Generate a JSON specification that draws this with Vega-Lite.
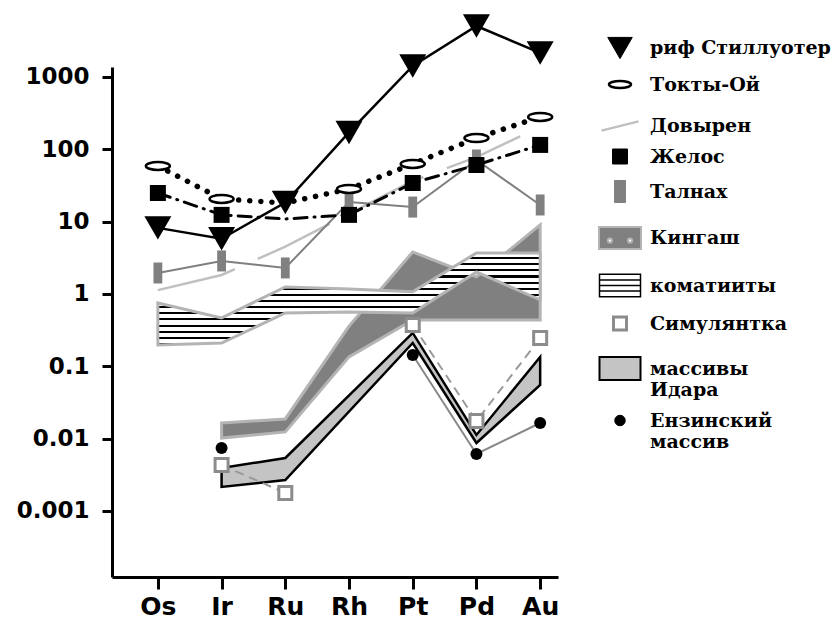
{
  "$schema": "https://vega.github.io/schema/vega-lite/v6.json",
  "width": 446,
  "height": 510,
  "autosize": {"type": "none"},
  "padding": {"left": 112, "top": 67, "right": 273, "bottom": 46},
  "background": "white",
  "config": {
    "view": {"stroke": null},
    "axis": {"grid": false, "domainColor": "black", "domainWidth": 3, "tickColor": "black", "tickWidth": 3, "labelFont": "DejaVu Sans", "labelFontWeight": "bold", "labelColor": "black", "title": null},
    "legend": {"title": null, "labelFont": "DejaVu Serif", "labelFontWeight": "bold", "labelFontSize": 19, "labelColor": "black", "labelLimit": 400, "labelOffset": 8, "rowPadding": 11, "symbolOpacity": 1, "padding": 0}
  },
  "datasets": {
    "pge": [
      {"series": "риф Стиллуотер", "element": "Os", "value": 8.2},
      {"series": "риф Стиллуотер", "element": "Ir", "value": 5.8},
      {"series": "риф Стиллуотер", "element": "Ru", "value": 18.4},
      {"series": "риф Стиллуотер", "element": "Rh", "value": 171},
      {"series": "риф Стиллуотер", "element": "Pt", "value": 1420},
      {"series": "риф Стиллуотер", "element": "Pd", "value": 5070},
      {"series": "риф Стиллуотер", "element": "Au", "value": 2150},
      {"series": "Токты-Ой", "element": "Os", "value": 58.8},
      {"series": "Токты-Ой", "element": "Ir", "value": 20.6},
      {"series": "Токты-Ой", "element": "Ru", "value": 18.1},
      {"series": "Токты-Ой", "element": "Rh", "value": 28.3},
      {"series": "Токты-Ой", "element": "Pt", "value": 62.7},
      {"series": "Токты-Ой", "element": "Pd", "value": 143},
      {"series": "Токты-Ой", "element": "Au", "value": 280},
      {"series": "Довырен", "element": "Os", "value": 1.13},
      {"series": "Довырен", "element": "Ir", "value": 1.83},
      {"series": "Довырен", "element": "Ru", "value": 4.5},
      {"series": "Довырен", "element": "Rh", "value": 12.8},
      {"series": "Довырен", "element": "Pt", "value": 36.5},
      {"series": "Довырен", "element": "Pd", "value": 78},
      {"series": "Довырен", "element": "Au", "value": 204},
      {"series": "Желос", "element": "Os", "value": 24.9},
      {"series": "Желос", "element": "Ir", "value": 12.4},
      {"series": "Желос", "element": "Ru", "value": 10.9},
      {"series": "Желос", "element": "Rh", "value": 12.4},
      {"series": "Желос", "element": "Pt", "value": 34.2},
      {"series": "Желос", "element": "Pd", "value": 60.7},
      {"series": "Желос", "element": "Au", "value": 115},
      {"series": "Талнах", "element": "Os", "value": 1.95},
      {"series": "Талнах", "element": "Ir", "value": 2.86},
      {"series": "Талнах", "element": "Ru", "value": 2.29},
      {"series": "Талнах", "element": "Rh", "value": 18.7},
      {"series": "Талнах", "element": "Pt", "value": 15.9},
      {"series": "Талнах", "element": "Pd", "value": 71.2},
      {"series": "Талнах", "element": "Au", "value": 17.0},
      {"series": "Симулянтка", "element": "Ir", "value": 0.00432},
      {"series": "Симулянтка", "element": "Ru", "value": 0.00177},
      {"series": "Симулянтка", "element": "Rh", "value": null},
      {"series": "Симулянтка", "element": "Pt", "value": 0.372},
      {"series": "Симулянтка", "element": "Pd", "value": 0.0175},
      {"series": "Симулянтка", "element": "Au", "value": 0.246},
      {"series": "Ензинский массив", "element": "Ir", "value": 0.00743},
      {"series": "Ензинский массив", "element": "Ru", "value": null},
      {"series": "Ензинский массив", "element": "Pt", "value": 0.1435},
      {"series": "Ензинский массив", "element": "Pd", "value": 0.00614},
      {"series": "Ензинский массив", "element": "Au", "value": 0.01645}
    ],
    "bands": [
      {"series": "коматииты", "element": "Os", "low": 0.197, "high": 0.75},
      {"series": "коматииты", "element": "Ir", "low": 0.21, "high": 0.466},
      {"series": "коматииты", "element": "Ru", "low": 0.546, "high": 1.25},
      {"series": "коматииты", "element": "Rh", "low": 0.563, "high": 1.17},
      {"series": "коматииты", "element": "Pt", "low": 0.546, "high": 1.07},
      {"series": "коматииты", "element": "Pd", "low": 2.01, "high": 3.69},
      {"series": "коматииты", "element": "Au", "low": 0.83, "high": 3.69},
      {"series": "Кингаш", "element": "Ir", "low": 0.0102, "high": 0.0164},
      {"series": "Кингаш", "element": "Ru", "low": 0.0124, "high": 0.0187},
      {"series": "Кингаш", "element": "Rh", "low": 0.135, "high": 0.36},
      {"series": "Кингаш", "element": "Pt", "low": 0.437, "high": 3.81},
      {"series": "Кингаш", "element": "Pd", "low": 0.437, "high": 1.73},
      {"series": "Кингаш", "element": "Au", "low": 0.437, "high": 9.0},
      {"series": "массивы Идара", "element": "Ir", "low": 0.00215, "high": 0.00393},
      {"series": "массивы Идара", "element": "Ru", "low": 0.00268, "high": 0.0054},
      {"series": "массивы Идара", "element": "Pt", "low": 0.21, "high": 0.29},
      {"series": "массивы Идара", "element": "Pd", "low": 0.0087, "high": 0.01125},
      {"series": "массивы Идара", "element": "Au", "low": 0.0552, "high": 0.1345}
    ],
    "legendEntries": [
      {"series": "риф Стиллуотер"},
      {"series": "Токты-Ой"},
      {"series": "Довырен"},
      {"series": "Желос"},
      {"series": "Талнах"},
      {"series": "Кингаш"},
      {"series": "коматииты"},
      {"series": "Симулянтка"},
      {"series": "массивы Идара"},
      {"series": "Ензинский массив"}
    ]
  },
  "layer": [
    {
      "data": {"name": "bands"},
      "transform": [{"filter": "datum.series === 'Кингаш'"}],
      "mark": {"type": "area", "fill": "#808080", "stroke": "#b4b4b4", "strokeWidth": 3, "strokeJoin": "miter"},
      "encoding": {
        "x": {"field": "element", "type": "ordinal", "title": null, "scale": {"type": "point", "domain": ["Os", "Ir", "Ru", "Rh", "Pt", "Pd", "Au"], "padding": 0.5, "align": 0.72}, "axis": {"labelAngle": 0, "labelFontSize": 25, "tickSize": 12, "labelPadding": 5}},
        "y": {"field": "high", "type": "quantitative", "title": null, "scale": {"type": "log", "domain": [0.0001222, 1374], "nice": false}, "axis": {"values": [0.001, 0.01, 0.1, 1, 10, 100, 1000], "format": "~g", "labelFontSize": 23, "tickSize": 10, "labelPadding": 13}},
        "y2": {"field": "low"}
      }
    },
    {
      "data": {"name": "bands"},
      "transform": [{"filter": "datum.series === 'коматииты'"}],
      "mark": {"type": "area", "stroke": "#b4b4b4", "strokeWidth": 3, "fill": {"gradient": "linear", "x1": 0, "y1": 0, "x2": 0, "y2": 1, "stops": [
        {"offset": 0, "color": "white"}, {"offset": 0.0444, "color": "white"}, {"offset": 0.0444, "color": "black"}, {"offset": 0.0667, "color": "black"},
        {"offset": 0.0667, "color": "white"}, {"offset": 0.1111, "color": "white"}, {"offset": 0.1111, "color": "black"}, {"offset": 0.1333, "color": "black"},
        {"offset": 0.1333, "color": "white"}, {"offset": 0.1778, "color": "white"}, {"offset": 0.1778, "color": "black"}, {"offset": 0.2, "color": "black"},
        {"offset": 0.2, "color": "white"}, {"offset": 0.2444, "color": "white"}, {"offset": 0.2444, "color": "black"}, {"offset": 0.2667, "color": "black"},
        {"offset": 0.2667, "color": "white"}, {"offset": 0.3111, "color": "white"}, {"offset": 0.3111, "color": "black"}, {"offset": 0.3333, "color": "black"},
        {"offset": 0.3333, "color": "white"}, {"offset": 0.3778, "color": "white"}, {"offset": 0.3778, "color": "black"}, {"offset": 0.4, "color": "black"},
        {"offset": 0.4, "color": "white"}, {"offset": 0.4444, "color": "white"}, {"offset": 0.4444, "color": "black"}, {"offset": 0.4667, "color": "black"},
        {"offset": 0.4667, "color": "white"}, {"offset": 0.5111, "color": "white"}, {"offset": 0.5111, "color": "black"}, {"offset": 0.5333, "color": "black"},
        {"offset": 0.5333, "color": "white"}, {"offset": 0.5778, "color": "white"}, {"offset": 0.5778, "color": "black"}, {"offset": 0.6, "color": "black"},
        {"offset": 0.6, "color": "white"}, {"offset": 0.6444, "color": "white"}, {"offset": 0.6444, "color": "black"}, {"offset": 0.6667, "color": "black"},
        {"offset": 0.6667, "color": "white"}, {"offset": 0.7111, "color": "white"}, {"offset": 0.7111, "color": "black"}, {"offset": 0.7333, "color": "black"},
        {"offset": 0.7333, "color": "white"}, {"offset": 0.7778, "color": "white"}, {"offset": 0.7778, "color": "black"}, {"offset": 0.8, "color": "black"},
        {"offset": 0.8, "color": "white"}, {"offset": 0.8444, "color": "white"}, {"offset": 0.8444, "color": "black"}, {"offset": 0.8667, "color": "black"},
        {"offset": 0.8667, "color": "white"}, {"offset": 0.9111, "color": "white"}, {"offset": 0.9111, "color": "black"}, {"offset": 0.9333, "color": "black"},
        {"offset": 0.9333, "color": "white"}, {"offset": 0.9778, "color": "white"}, {"offset": 0.9778, "color": "black"}, {"offset": 1, "color": "black"}
      ]}},
      "encoding": {
        "x": {"field": "element", "type": "ordinal", "title": null, "scale": {"type": "point", "domain": ["Os", "Ir", "Ru", "Rh", "Pt", "Pd", "Au"], "padding": 0.5, "align": 0.72}},
        "y": {"field": "high", "type": "quantitative", "title": null, "scale": {"type": "log", "domain": [0.0001222, 1374], "nice": false}},
        "y2": {"field": "low"}
      }
    },
    {
      "data": {"name": "bands"},
      "transform": [{"filter": "datum.series === 'массивы Идара'"}],
      "mark": {"type": "area", "fill": "#c4c4c4", "stroke": "black", "strokeWidth": 2.5},
      "encoding": {
        "x": {"field": "element", "type": "ordinal", "title": null, "scale": {"type": "point", "domain": ["Os", "Ir", "Ru", "Rh", "Pt", "Pd", "Au"], "padding": 0.5, "align": 0.72}},
        "y": {"field": "high", "type": "quantitative", "title": null, "scale": {"type": "log", "domain": [0.0001222, 1374], "nice": false}},
        "y2": {"field": "low"}
      }
    },
    {
      "data": {"name": "pge"},
      "transform": [{"filter": "datum.series === 'Довырен'"}],
      "mark": {"type": "line", "stroke": "#c0c0c0", "strokeWidth": 2.5, "strokeDash": [80, 25]},
      "encoding": {
        "x": {"field": "element", "type": "ordinal", "title": null, "scale": {"type": "point", "domain": ["Os", "Ir", "Ru", "Rh", "Pt", "Pd", "Au"], "padding": 0.5, "align": 0.72}},
        "y": {"field": "value", "type": "quantitative", "title": null, "scale": {"type": "log", "domain": [0.0001222, 1374], "nice": false}}
      }
    },
    {
      "data": {"name": "pge"},
      "transform": [{"filter": "datum.series === 'Талнах'"}],
      "mark": {"type": "line", "stroke": "#7f7f7f", "strokeWidth": 2},
      "encoding": {
        "x": {"field": "element", "type": "ordinal", "title": null, "scale": {"type": "point", "domain": ["Os", "Ir", "Ru", "Rh", "Pt", "Pd", "Au"], "padding": 0.5, "align": 0.72}},
        "y": {"field": "value", "type": "quantitative", "title": null, "scale": {"type": "log", "domain": [0.0001222, 1374], "nice": false}}
      }
    },
    {
      "data": {"name": "pge"},
      "transform": [{"filter": "datum.series === 'Талнах'"}],
      "mark": {"type": "point", "shape": "M-0.42,-1H0.42V1H-0.42Z", "size": 441, "filled": true, "fill": "#808080", "opacity": 1, "strokeWidth": 0},
      "encoding": {
        "x": {"field": "element", "type": "ordinal", "title": null, "scale": {"type": "point", "domain": ["Os", "Ir", "Ru", "Rh", "Pt", "Pd", "Au"], "padding": 0.5, "align": 0.72}},
        "y": {"field": "value", "type": "quantitative", "title": null, "scale": {"type": "log", "domain": [0.0001222, 1374], "nice": false}}
      }
    },
    {
      "data": {"name": "pge"},
      "transform": [{"filter": "datum.series === 'Желос'"}],
      "mark": {"type": "line", "stroke": "black", "strokeWidth": 3, "strokeDash": [13, 7, 1, 7], "strokeCap": "round"},
      "encoding": {
        "x": {"field": "element", "type": "ordinal", "title": null, "scale": {"type": "point", "domain": ["Os", "Ir", "Ru", "Rh", "Pt", "Pd", "Au"], "padding": 0.5, "align": 0.72}},
        "y": {"field": "value", "type": "quantitative", "title": null, "scale": {"type": "log", "domain": [0.0001222, 1374], "nice": false}}
      }
    },
    {
      "data": {"name": "pge"},
      "transform": [{"filter": "datum.series === 'Желос' && datum.element !== 'Ru'"}],
      "mark": {"type": "point", "shape": "square", "size": 256, "filled": true, "fill": "black", "opacity": 1},
      "encoding": {
        "x": {"field": "element", "type": "ordinal", "title": null, "scale": {"type": "point", "domain": ["Os", "Ir", "Ru", "Rh", "Pt", "Pd", "Au"], "padding": 0.5, "align": 0.72}},
        "y": {"field": "value", "type": "quantitative", "title": null, "scale": {"type": "log", "domain": [0.0001222, 1374], "nice": false}}
      }
    },
    {
      "data": {"name": "pge"},
      "transform": [{"filter": "datum.series === 'Токты-Ой'"}],
      "mark": {"type": "line", "stroke": "black", "strokeWidth": 5.5, "strokeDash": [0.1, 11], "strokeCap": "round"},
      "encoding": {
        "x": {"field": "element", "type": "ordinal", "title": null, "scale": {"type": "point", "domain": ["Os", "Ir", "Ru", "Rh", "Pt", "Pd", "Au"], "padding": 0.5, "align": 0.72}},
        "y": {"field": "value", "type": "quantitative", "title": null, "scale": {"type": "log", "domain": [0.0001222, 1374], "nice": false}}
      }
    },
    {
      "data": {"name": "pge"},
      "transform": [{"filter": "datum.series === 'Токты-Ой' && datum.element !== 'Ru'"}],
      "mark": {"type": "point", "shape": "M-1,0A1,0.33 0 1,1 1,0A1,0.33 0 1,1 -1,0Z", "size": 576, "filled": true, "fill": "white", "stroke": "black", "strokeWidth": 2.5, "opacity": 1},
      "encoding": {
        "x": {"field": "element", "type": "ordinal", "title": null, "scale": {"type": "point", "domain": ["Os", "Ir", "Ru", "Rh", "Pt", "Pd", "Au"], "padding": 0.5, "align": 0.72}},
        "y": {"field": "value", "type": "quantitative", "title": null, "scale": {"type": "log", "domain": [0.0001222, 1374], "nice": false}}
      }
    },
    {
      "data": {"name": "pge"},
      "transform": [{"filter": "datum.series === 'риф Стиллуотер'"}],
      "mark": {"type": "line", "stroke": "black", "strokeWidth": 2.5},
      "encoding": {
        "x": {"field": "element", "type": "ordinal", "title": null, "scale": {"type": "point", "domain": ["Os", "Ir", "Ru", "Rh", "Pt", "Pd", "Au"], "padding": 0.5, "align": 0.72}},
        "y": {"field": "value", "type": "quantitative", "title": null, "scale": {"type": "log", "domain": [0.0001222, 1374], "nice": false}}
      }
    },
    {
      "data": {"name": "pge"},
      "transform": [{"filter": "datum.series === 'риф Стиллуотер'"}],
      "mark": {"type": "point", "shape": "triangle-down", "size": 729, "filled": true, "fill": "black", "opacity": 1},
      "encoding": {
        "x": {"field": "element", "type": "ordinal", "title": null, "scale": {"type": "point", "domain": ["Os", "Ir", "Ru", "Rh", "Pt", "Pd", "Au"], "padding": 0.5, "align": 0.72}},
        "y": {"field": "value", "type": "quantitative", "title": null, "scale": {"type": "log", "domain": [0.0001222, 1374], "nice": false}}
      }
    },
    {
      "data": {"name": "pge"},
      "transform": [{"filter": "datum.series === 'Симулянтка'"}],
      "mark": {"type": "line", "stroke": "#999999", "strokeWidth": 2, "strokeDash": [9, 6], "invalid": "break-paths-show-domains"},
      "encoding": {
        "x": {"field": "element", "type": "ordinal", "title": null, "scale": {"type": "point", "domain": ["Os", "Ir", "Ru", "Rh", "Pt", "Pd", "Au"], "padding": 0.5, "align": 0.72}},
        "y": {"field": "value", "type": "quantitative", "title": null, "scale": {"type": "log", "domain": [0.0001222, 1374], "nice": false}}
      }
    },
    {
      "data": {"name": "pge"},
      "transform": [{"filter": "datum.series === 'Ензинский массив'"}],
      "mark": {"type": "line", "stroke": "#888888", "strokeWidth": 2, "invalid": "break-paths-show-domains"},
      "encoding": {
        "x": {"field": "element", "type": "ordinal", "title": null, "scale": {"type": "point", "domain": ["Os", "Ir", "Ru", "Rh", "Pt", "Pd", "Au"], "padding": 0.5, "align": 0.72}},
        "y": {"field": "value", "type": "quantitative", "title": null, "scale": {"type": "log", "domain": [0.0001222, 1374], "nice": false}}
      }
    },
    {
      "data": {"name": "pge"},
      "transform": [{"filter": "datum.series === 'Симулянтка' && isValid(datum.value)"}],
      "mark": {"type": "point", "shape": "square", "size": 169, "filled": true, "fill": "white", "stroke": "#8c8c8c", "strokeWidth": 3, "opacity": 1},
      "encoding": {
        "x": {"field": "element", "type": "ordinal", "title": null, "scale": {"type": "point", "domain": ["Os", "Ir", "Ru", "Rh", "Pt", "Pd", "Au"], "padding": 0.5, "align": 0.72}},
        "y": {"field": "value", "type": "quantitative", "title": null, "scale": {"type": "log", "domain": [0.0001222, 1374], "nice": false}}
      }
    },
    {
      "data": {"name": "pge"},
      "transform": [{"filter": "datum.series === 'Ензинский массив' && isValid(datum.value)"}],
      "mark": {"type": "point", "shape": "circle", "size": 144, "filled": true, "fill": "black", "opacity": 1},
      "encoding": {
        "x": {"field": "element", "type": "ordinal", "title": null, "scale": {"type": "point", "domain": ["Os", "Ir", "Ru", "Rh", "Pt", "Pd", "Au"], "padding": 0.5, "align": 0.72}},
        "y": {"field": "value", "type": "quantitative", "title": null, "scale": {"type": "log", "domain": [0.0001222, 1374], "nice": false}}
      }
    },
    {
      "data": {"name": "legendEntries"},
      "mark": {"type": "point", "opacity": 0, "filled": true},
      "encoding": {
        "shape": {"field": "series", "type": "nominal", "scale": {"domain": ["риф Стиллуотер", "Токты-Ой", "Довырен", "Желос", "Талнах", "Кингаш", "коматииты", "Симулянтка", "массивы Идара", "Ензинский массив"], "range": ["triangle-down", "M-1,0A1,0.32 0 1,1 1,0A1,0.32 0 1,1 -1,0Z", "M-1,0.25L1,-0.25", "square", "M-0.5,-1H0.5V1H-0.5Z", "M-1,-0.52H1V0.52H-1Z M-0.58,0.12A0.1,0.1 0 1,0 -0.38,0.12A0.1,0.1 0 1,0 -0.58,0.12Z M0.38,0.12A0.1,0.1 0 1,0 0.58,0.12A0.1,0.1 0 1,0 0.38,0.12Z", "M-1,-0.55H1V0.55H-1Z M-1,-0.27H1 M-1,0H1 M-1,0.27H1", "square", "M-1,-0.56H1V0.56H-1Z", "circle"]}, "legend": {"title": null, "orient": "none", "legendX": 486, "legendY": -32, "labelFont": "DejaVu Serif", "labelFontWeight": "bold", "labelFontSize": 19, "labelExpr": "datum.label == 'массивы Идара' ? ['массивы', 'Идара'] : datum.label == 'Ензинский массив' ? ['Ензинский', 'массив'] : datum.label"}},
        "fill": {"field": "series", "type": "nominal", "scale": {"domain": ["риф Стиллуотер", "Токты-Ой", "Довырен", "Желос", "Талнах", "Кингаш", "коматииты", "Симулянтка", "массивы Идара", "Ензинский массив"], "range": ["black", "white", "transparent", "black", "#808080", "#808080", "white", "white", "#c4c4c4", "black"]}},
        "stroke": {"field": "series", "type": "nominal", "scale": {"domain": ["риф Стиллуотер", "Токты-Ой", "Довырен", "Желос", "Талнах", "Кингаш", "коматииты", "Симулянтка", "массивы Идара", "Ензинский массив"], "range": ["black", "black", "#c0c0c0", "black", "#808080", "#b4b4b4", "black", "#8c8c8c", "black", "black"]}},
        "size": {"field": "series", "type": "nominal", "scale": {"type": "ordinal", "domain": ["риф Стиллуотер", "Токты-Ой", "Довырен", "Желос", "Талнах", "Кингаш", "коматииты", "Симулянтка", "массивы Идара", "Ензинский массив"], "range": [600, 484, 1369, 225, 484, 1764, 1681, 169, 1681, 110]}},
        "strokeWidth": {"field": "series", "type": "nominal", "scale": {"type": "ordinal", "domain": ["риф Стиллуотер", "Токты-Ой", "Довырен", "Желос", "Талнах", "Кингаш", "коматииты", "Симулянтка", "массивы Идара", "Ензинский массив"], "range": [1, 2.5, 2.5, 1, 1, 2, 1.5, 3, 2, 1]}}
      }
    }
  ]
}
